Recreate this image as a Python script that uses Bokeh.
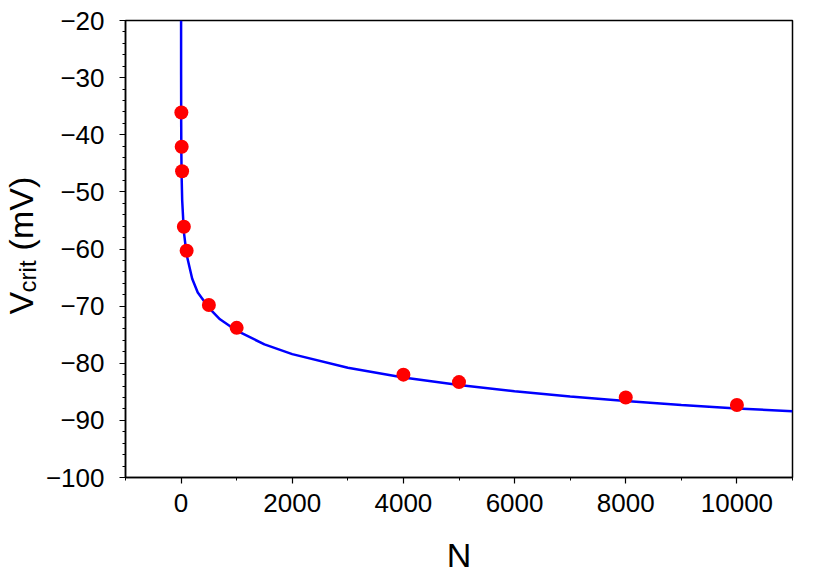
import math
from bokeh.plotting import figure
from bokeh.layouts import row
from bokeh.models import Range1d, SingleIntervalTicker, CustomJSTickFormatter
from bokeh.core.properties import value
from bokeh.embed import file_html
from bokeh.resources import INLINE

# measured points
pts_n = [5, 11, 18, 50, 100, 500, 1000, 4000, 5000, 8000, 10000]
pts_v = [-36.1, -42.1, -46.4, -56.1, -60.3, -69.8, -73.8, -82.0, -83.3, -86.0, -87.3]

# fitted curve
curve_n = [0.1, 0.5, 2, 5, 10, 20, 50, 100, 200, 300, 500, 700, 1000, 1500,
           2000, 3000, 4000, 5000, 6000, 7000, 8000, 9000, 10000, 11000]
curve_v = [-20.0, -29.5, -37.8, -43.3, -47.4, -51.5, -57.0, -61.0, -65.2, -67.6,
           -70.3, -72.3, -74.3, -76.7, -78.4, -80.8, -82.5, -83.8, -84.9, -85.8,
           -86.6, -87.3, -87.9, -88.4]

FONT = "Liberation Sans"
LEFT_W = 42
H = 581
TOP, BOTTOM = 20, 104

yr = Range1d(-100, -20)

# ---- narrow panel holding the rotated y-axis title V_crit (mV)
lab = figure(width=LEFT_W, height=H, output_backend="svg", toolbar_location=None,
             x_range=Range1d(0, LEFT_W), y_range=yr,
             x_axis_type=None, y_axis_type=None, min_border_left=0,
             min_border_right=0, min_border_top=TOP, min_border_bottom=BOTTOM)
lab.outline_line_color = None
lab.grid.visible = False
lab.background_fill_color = "white"
lab.border_fill_color = "white"
rot = math.pi / 2
tkw = dict(angle=rot, text_font=value(FONT), text_color="black",
           text_align="center", text_baseline="middle")
lab.text(x=[20], y=[-69.5], text=["V"], text_font_size=value("34px"), **tkw)
lab.text(x=[27], y=[-64.8], text=["crit"], text_font_size=value("24px"), **tkw)
lab.text(x=[20], y=[-53.8], text=["(mV)"], text_font_size=value("34px"), **tkw)

# ---- main plot
p = figure(width=830 - LEFT_W, height=H, output_backend="svg", toolbar_location=None,
           x_range=Range1d(-1000, 11000), y_range=yr,
           min_border_left=124 - LEFT_W, min_border_right=38, min_border_top=TOP,
           min_border_bottom=BOTTOM)
p.grid.visible = False
p.background_fill_color = "white"
p.border_fill_color = "white"
p.outline_line_color = "black"
p.outline_line_width = 1.5

p.line(curve_n, curve_v, line_color="#0000ff", line_width=2.5)
p.scatter(pts_n, pts_v, size=14, fill_color="#ff0000", line_color=None)

fmt = CustomJSTickFormatter(code="return tick < 0 ? '\u2212' + Math.abs(tick) : String(tick);")

xa = p.xaxis[0]
xa.ticker = SingleIntervalTicker(interval=2000, num_minor_ticks=2)
ya = p.yaxis[0]
ya.ticker = SingleIntervalTicker(interval=10, num_minor_ticks=5)
for ax in (xa, ya):
    ax.formatter = fmt
    ax.axis_line_width = 1.5
    ax.axis_line_color = "black"
    ax.major_tick_in = 0
    ax.major_tick_out = 6
    ax.minor_tick_in = 0
    ax.minor_tick_out = 3
    ax.major_tick_line_width = 1.2
    ax.minor_tick_line_width = 1.0
    ax.major_label_text_font = FONT
    ax.major_label_text_font_size = "26px"
    ax.major_label_text_color = "black"
xa.major_label_standoff = 10
ya.major_label_standoff = 15

xa.axis_label = "N"
xa.axis_label_text_font = FONT
xa.axis_label_text_font_size = "34px"
xa.axis_label_text_font_style = "normal"
xa.axis_label_text_color = "black"
xa.axis_label_standoff = 21

layout = row(lab, p, spacing=0)
open("out.html", "w").write(file_html(layout, INLINE))
